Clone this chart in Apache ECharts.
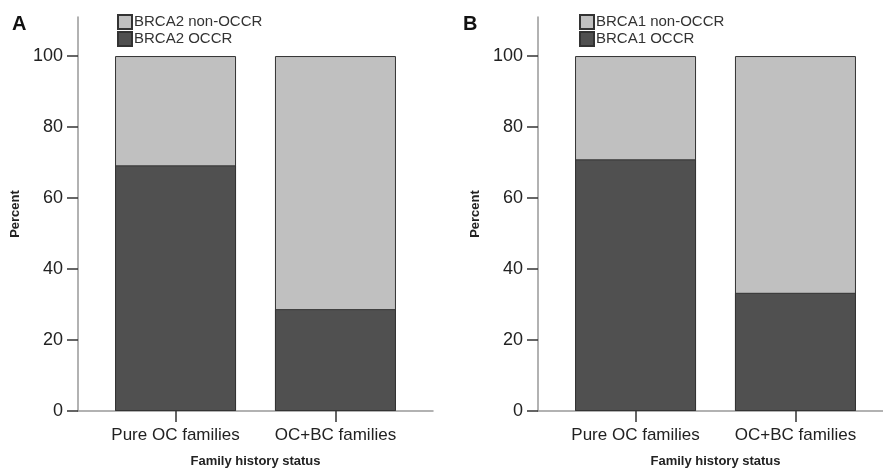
<!DOCTYPE html>
<html>
<head>
<meta charset="utf-8">
<script src="https://cdn.jsdelivr.net/npm/echarts@6/dist/echarts.min.js"></script>
<style>html,body{margin:0;padding:0;background:#fff;}#c{width:883px;height:469px;}</style>
</head>
<body>
<div id="c"></div>
<script>
var categories = ['Pure OC families', 'OC+BC families'];
var yTicks = [0, 20, 40, 60, 80, 100];
var brca2Occr = [69.2, 28.7];
var brca2NonOccr = [30.8, 71.3];
var brca1Occr = [70.9, 33.3];
var brca1NonOccr = [29.1, 66.7];
var panelLabels = ['A', 'B'];

var FONT = '"Liberation Sans", Arial, sans-serif';
var DARK = '#505050', LIGHT = '#c0c0c0', BORDER = '#333';

function pts(arr) { return arr.map(function (v, i) { return [i, v]; }); }
function totals(a, b) { return a.map(function (v, i) { return v + b[i]; }); }

var grids = [
  { left: 78, top: 17, width: 355, height: 394, outerBoundsMode: 'none', containLabel: false },
  { left: 538, top: 17, width: 355, height: 394, outerBoundsMode: 'none', containLabel: false }
];

function xAxis(gi) {
  return {
    type: 'value', gridIndex: gi, min: -0.61, max: 1.61,
    name: 'Family history status', nameLocation: 'middle', nameGap: 44,
    nameTextStyle: { fontFamily: FONT, fontWeight: 'bold', fontSize: 13, color: '#222' },
    axisLine: { show: true, onZero: false, lineStyle: { color: '#999', width: 1.5 } },
    axisTick: { show: true, length: 11, customValues: [0, 1], lineStyle: { color: '#333', width: 1.5 } },
    axisLabel: { customValues: [0, 1], margin: 16, fontFamily: FONT, fontSize: 17, color: '#222',
      formatter: function (v) { return categories[Math.round(v)] || ''; } },
    splitLine: { show: false }
  };
}
function yAxis(gi) {
  return {
    type: 'value', gridIndex: gi, min: 0, max: 111,
    name: 'Percent', nameLocation: 'middle', nameGap: 56, nameRotate: 90,
    nameTextStyle: { fontFamily: FONT, fontWeight: 'bold', fontSize: 13, color: '#222' },
    axisLine: { show: true, onZero: false, lineStyle: { color: '#999', width: 1.5 } },
    axisTick: { show: true, length: 11, customValues: yTicks, lineStyle: { color: '#333', width: 1.5 } },
    axisLabel: { customValues: yTicks, margin: 15, fontFamily: FONT, fontSize: 18, color: '#222' },
    splitLine: { show: false }
  };
}
function bar(name, data, color, gi) {
  return {
    type: 'bar', name: name, xAxisIndex: gi, yAxisIndex: gi,
    data: pts(data), barWidth: 121, barGap: '-100%',
    itemStyle: { color: color, borderColor: BORDER, borderWidth: 1 },
    emphasis: { disabled: true }, silent: true, animation: false
  };
}
function legend(x, names) {
  return {
    orient: 'vertical', left: x, top: 14, padding: 0, itemWidth: 14, itemHeight: 14, itemGap: 1,
    icon: 'rect', selectedMode: false,
    textStyle: { fontFamily: FONT, fontSize: 15, lineHeight: 14, color: '#333', padding: [0, 0, 0, -3] },
    data: names
  };
}
function title(text, x) {
  return { text: text, left: x, top: 14, padding: 0,
    textStyle: { fontFamily: FONT, fontWeight: 'bold', fontSize: 20, color: '#111' } };
}

var chart = echarts.init(document.getElementById('c'), null, { renderer: 'canvas' });
chart.setOption({
  animation: false,
  backgroundColor: '#fff',
  grid: grids,
  xAxis: [xAxis(0), xAxis(1)],
  yAxis: [yAxis(0), yAxis(1)],
  legend: [
    legend(117, ['BRCA2 non-OCCR', 'BRCA2 OCCR']),
    legend(579, ['BRCA1 non-OCCR', 'BRCA1 OCCR'])
  ],
  title: [title(panelLabels[0], 12), title(panelLabels[1], 463)],
  series: [
    bar('BRCA2 non-OCCR', totals(brca2Occr, brca2NonOccr), LIGHT, 0),
    bar('BRCA2 OCCR', brca2Occr, DARK, 0),
    bar('BRCA1 non-OCCR', totals(brca1Occr, brca1NonOccr), LIGHT, 1),
    bar('BRCA1 OCCR', brca1Occr, DARK, 1)
  ]
});
</script>
</body>
</html>
